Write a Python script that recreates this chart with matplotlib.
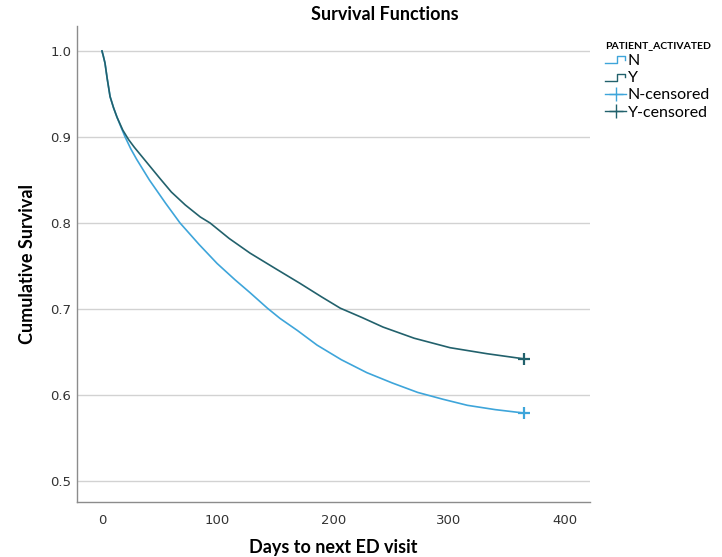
import matplotlib
matplotlib.use("Agg")
import matplotlib.pyplot as plt
from matplotlib.lines import Line2D
from matplotlib.legend_handler import HandlerBase

# ---- data ----
days_N = [0, 1, 2.6, 4.5, 7, 10, 13, 16, 20, 25, 30, 41, 55, 67.5, 84, 99.5, 115, 128, 143, 154, 169, 186, 207, 229, 251, 273, 295, 316, 340, 365]
surv_N = [1.0, 0.995, 0.986, 0.968, 0.947, 0.934, 0.923, 0.913, 0.900, 0.886, 0.874, 0.850, 0.823, 0.800, 0.775, 0.753, 0.734, 0.719, 0.701, 0.689, 0.675, 0.658, 0.641, 0.626, 0.614, 0.603, 0.595, 0.588, 0.583, 0.579]
days_Y = [0, 1, 2.6, 4.5, 7, 10, 13, 18, 23, 28, 39, 50, 60, 72, 85, 93.5, 110, 128, 150, 171, 190, 206, 225, 243, 270, 301, 333, 365]
surv_Y = [1.0, 0.995, 0.986, 0.968, 0.947, 0.934, 0.923, 0.908, 0.897, 0.888, 0.870, 0.852, 0.836, 0.821, 0.807, 0.800, 0.782, 0.765, 0.747, 0.730, 0.714, 0.701, 0.690, 0.679, 0.666, 0.655, 0.648, 0.642]
cens_day_N, cens_surv_N = [365], [0.579]
cens_day_Y, cens_surv_Y = [365], [0.642]

col_N = "#3EA5DA"
col_Y = "#22616C"

FAM = ["Lato", "DejaVu Sans"]
AX_BOTTOM = 502
AX_TOP = 26

fig = plt.figure(figsize=(7.22, 5.57), dpi=100)
ax = fig.add_axes([77/722, 1-AX_BOTTOM/557, (590-77)/722, (AX_BOTTOM-AX_TOP)/557])

ax.plot(days_N, surv_N, color=col_N, lw=1.2, zorder=3)
ax.plot(days_Y, surv_Y, color=col_Y, lw=1.2, zorder=3)
ax.plot(cens_day_N, cens_surv_N, "+", color=col_N, ms=8, mew=1.6, zorder=4)
ax.plot(cens_day_Y, cens_surv_Y, "+", color=col_Y, ms=8, mew=1.6, zorder=4)

ax.set_xlim(-21.6, 422)
ax.set_ylim(0.5 - (AX_BOTTOM-481)/860, 1.0 + (51-AX_TOP)/860)
ax.set_xticks([0, 100, 200, 300, 400])
ax.set_yticks([0.5, 0.6, 0.7, 0.8, 0.9, 1.0])
ax.set_yticklabels(["0.5", "0.6", "0.7", "0.8", "0.9", "1.0"])
ax.yaxis.grid(True, color="#d2d2d2", lw=1.0, zorder=0)
ax.set_axisbelow(True)
for s in ["top", "right"]:
    ax.spines[s].set_visible(False)
for s in ["left", "bottom"]:
    ax.spines[s].set_color("#8c8c8c")
    ax.spines[s].set_linewidth(1.0)
ax.tick_params(axis="both", length=0, labelsize=9.5, colors="#333333")
ax.tick_params(axis="y", pad=4)
ax.tick_params(axis="x", pad=9)

fig.text(385/722, 1 - 15/557, "Survival Functions", fontsize=13, fontweight="bold",
         family=FAM, ha="center", va="center")
ax.set_xlabel("Days to next ED visit", fontsize=13, fontweight="bold", family=FAM)
ax.set_ylabel("Cumulative Survival", fontsize=13, fontweight="bold", family=FAM)
ax.xaxis.set_label_coords(0.5, (AX_BOTTOM-548)/(AX_BOTTOM-AX_TOP))
ax.yaxis.set_label_coords((28-77)/513, 0.5)
ax.xaxis.label.set_va("center")
ax.yaxis.label.set_va("center")


class HandlerStep(HandlerBase):
    def create_artists(self, legend, orig_handle, xdescent, ydescent, width, height, fontsize, trans):
        x0, w = -xdescent, width
        y0, h = -ydescent, height
        xs = [x0, x0 + 0.55 * w, x0 + 0.55 * w, x0 + 0.95 * w, x0 + 0.95 * w]
        ys = [y0 + 0.1 * h, y0 + 0.1 * h, y0 + 0.75 * h, y0 + 0.75 * h, y0 + 0.4 * h]
        ln = Line2D(xs, ys, color=orig_handle.get_color(), lw=1.0)
        ln.set_transform(trans)
        return [ln]


h_N = Line2D([], [], color=col_N)
h_Y = Line2D([], [], color=col_Y)
h_Nc = Line2D([], [], color=col_N, lw=1.0, marker="+", ms=10, mew=1.0)
h_Yc = Line2D([], [], color=col_Y, lw=1.0, marker="+", ms=10, mew=1.0)
leg = fig.legend([h_N, h_Y, h_Nc, h_Yc], ["N", "Y", "N-censored", "Y-censored"],
                 handler_map={h_N: HandlerStep(), h_Y: HandlerStep()},
                 loc="upper left", bbox_to_anchor=(594/722, 1-30/557),
                 frameon=False, prop={"size": 11.5, "family": FAM},
                 title="PATIENT_ACTIVATED",
                 title_fontproperties={"weight": "bold", "size": 7.5, "family": FAM},
                 handlelength=1.3, handletextpad=0.1, labelspacing=0.2,
                 borderpad=0.2, alignment="left")
leg._legend_box.align = "left"

fig.savefig("out.png", dpi=100)
